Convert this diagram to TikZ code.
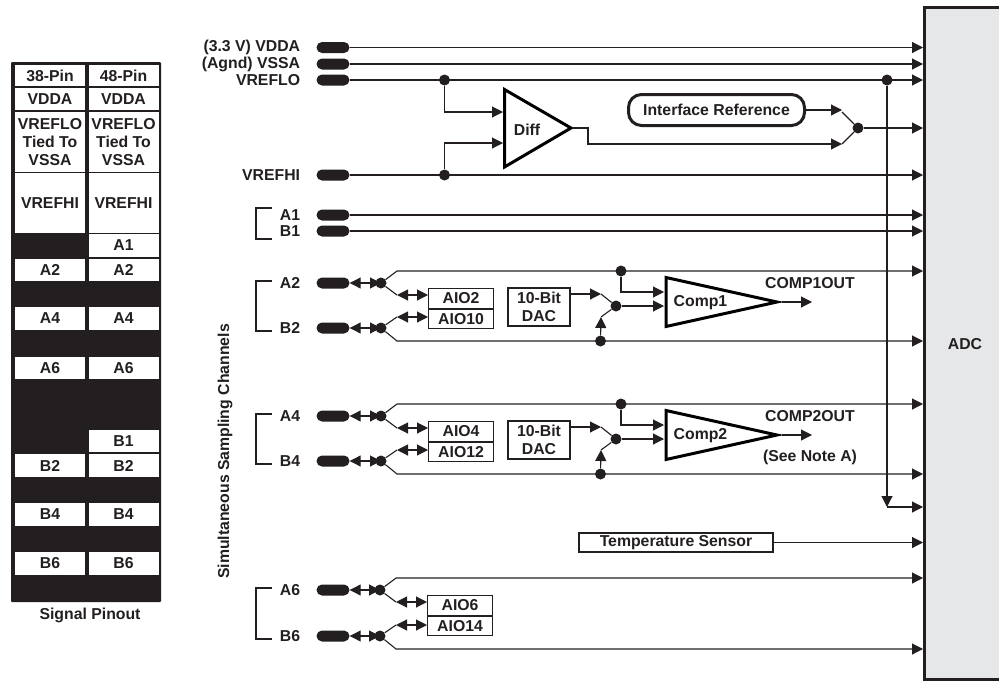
\documentclass[tikz,border=0pt]{standalone}
\usepackage{fontspec}
\setmainfont{Liberation Sans}
\usetikzlibrary{arrows.meta}
\usetikzlibrary{positioning}
\definecolor{ink}{HTML}{231F20}
\definecolor{adcgray}{HTML}{E6E7E8}
\newcommand{\padnode}[3]{\node(#1)[pad] at (333,#3) {};\node[rtext,left=16pt of #1] {#2}}
\newcommand{\tobus}[1]{\draw[sig] (#1.east) -- (#1 -| adc.west)}
% one pair of sampled inputs with the two AIO boxes
\newcommand{\chanpair}[8]{
  \padnode{#1}{#1}{#3};
  \padnode{#2}{#2}{#4};
  \node(dot#1)[dotnode] at (#7,#3) {};
  \node(dot#2)[dotnode] at (#7,#4) {};
  \draw[both] (#1.east) -- (dot#1.center);
  \draw[both] (#2.east) -- (dot#2.center);
  \node(#5)[aio,anchor=north west] at (#8,#3+5) {#5};
  \node(#6)[aio,anchor=north west] at (#5.south west) {#6};
  \coordinate (up#1) at (#7+16,#3-12);
  \coordinate (in#1) at (#7+16,#3+12);
  \coordinate (in#2) at (#7+16,#4-11);
  \coordinate (lo#2) at (#7+16,#4+13);
  \draw[wire] (dot#1) -- (in#1);
  \draw[wire] (dot#2) -- (in#2);
  \draw[both] (in#1) -- (in#1 -| #5.west);
  \draw[both] (in#2) -- (in#2 -| #6.west);
  \draw[sig] (dot#1) -- (up#1) -- (up#1 -| adc.west);
  \draw[sig] (dot#2) -- (lo#2) -- (lo#2 -| adc.west);
  \draw[wire] (272,#3-2) -| (256,#4+3) -- (272,#4+3);
}
% dac and comparator, hung on a pair
\newcommand{\compblock}[4]{
  \node(dac#1)[dacbox] at (539,#2+24) {10-Bit\\DAC};
  \node(tap#1)[dotnode] at (621,#2-12) {};
  \node(low#1)[dotnode] at (600.5,#3+13) {};
  \node(sw#1)[dotnode] at (616,#2+23) {};
  \coordinate (swa#1) at (601,#2+11);
  \coordinate (swb#1) at (601,#3-11);
  \draw[sig] (dac#1.east |- swa#1) -- (swa#1);
  \draw[wire] (swa#1) -- (sw#1);
  \draw[wire] (swb#1) -- (sw#1);
  \draw[sig] (low#1) -- (swb#1);
  \draw[fill=white,line width=3pt,miter limit=10] (666,#2-5.5) -- (666,#2+43.5) -- (777,#2+19) -- cycle;
  \node(cmp#1)[ltext] at (700.5,#2+20) {Comp#1};
  \coordinate (cmpa#1) at (664,#2+9);
  \coordinate (cmpb#1) at (664,#2+23);
  \coordinate (cmpo#1) at (782,#2+19);
  \coordinate (cmpe#1) at (812,#2+19);
  \draw[sig] (tap#1) |- (cmpa#1);
  \draw[sig] (sw#1) -- (cmpb#1);
  \draw[sig] (cmpo#1) -- (cmpe#1);
  \node(out#1)[ltext] at (810,#2) {#4};
}

\begin{document}
\begin{tikzpicture}[
        x=1pt,y=-1pt,
        every node/.style={font=\fontsize{15.8}{17.8}\selectfont\bfseries,text=ink},
        wire/.style={draw=ink,line width=1.1pt},
        sig/.style={wire,-{Triangle[length=11pt,width=11pt]}},
        both/.style={wire,{Triangle[length=11pt,width=11pt]}-{Triangle[length=11pt,width=11pt]}},
        pad/.style={rectangle,fill=ink,minimum width=33pt,minimum height=11pt,
                    inner sep=0pt,rounded corners=5.5pt},
        dotnode/.style={circle,fill=ink,minimum size=11pt,inner sep=0pt},
        cell/.style={rectangle,fill=white,inner sep=0pt,align=center,minimum width=70pt},
        aio/.style={rectangle,draw=ink,line width=1.1pt,inner sep=0pt,minimum width=65pt,minimum height=19.5pt},
        dacbox/.style={rectangle,draw=ink,line width=1.1pt,inner sep=0pt,align=center,minimum width=62pt,minimum height=38pt},
        rtext/.style={inner sep=0pt,anchor=east},
        ltext/.style={inner sep=0pt}
      ]
      \useasboundingbox (0,0) rectangle (999,681);

      \node(pinout)[rectangle,fill=ink,rounded corners=1pt,minimum width=150pt,minimum height=540pt] at (86,332) {};
      \foreach \cy/\ch/\txt [count=\i] in {75.5/21/38-Pin,99/22/VDDA,142/60/{VREFLO\\Tied To\\VSSA},203/60/VREFHI,
          270/22/A2,318.5/23/A4,368/22/A6,465.5/23/B2,514.5/23/B4,563.5/23/B6}{
        \node(oldpin\i)[cell,minimum height=\ch pt] at (50,\cy) {\txt};
        \node(newpin\i)[cell,minimum height=\ch pt] at (123.5,\cy) {\ifnum\i=1 48-Pin\else\txt\fi};
      }
      \node(pinAone)[cell,minimum height=23pt] at (123.5,245.5) {A1};
      \node(pinBone)[cell,minimum height=22pt] at (123.5,441) {B1};
      \node(pincap)[ltext] at (90,615.5) {Signal Pinout};

      \node(adc)[rectangle,draw=ink,fill=adcgray,line width=3pt,minimum width=80.5pt,minimum height=672pt] at (964.75,343.5) {};
      \node(adclabel)[ltext] at (965,344) {ADC};

      \padnode{vdda}{(3.3 V) VDDA}{47.5};
      \padnode{vssa}{(Agnd) VSSA}{64};
      \padnode{vreflo}{VREFLO}{80};
      \padnode{vrefhi}{VREFHI}{175};
      \padnode{Aone}{A1}{215};
      \padnode{Bone}{B1}{231};
      \tobus{vdda};
      \tobus{vssa};
      \tobus{vreflo};
      \tobus{vrefhi};
      \tobus{Aone};
      \tobus{Bone};
      \draw[wire] (272,208) -| (256,239) -- (272,239);

      \node(lotap)[dotnode] at (444.5,80) {};
      \node(hitap)[dotnode] at (444.5,175) {};
      \draw[fill=white,line width=3pt,miter limit=10] (504.5,89.5) -- (504.5,167) -- (571,128) -- cycle;
      \node(diff)[ltext] at (527,130) {Diff};
      \coordinate (diffa) at (503,112);
      \coordinate (diffb) at (503,143);
      \coordinate (diffo) at (573,128);
      \draw[sig] (lotap) |- (diffa);
      \draw[sig] (hitap) |- (diffb);

      \node(iref)[rectangle,draw=ink,line width=3pt,rounded corners=13pt,minimum width=176pt,minimum height=31pt] at (716.5,110) {Interface Reference};
      \node(mux)[dotnode] at (858,128) {};
      \coordinate (muxa) at (842,112);
      \coordinate (muxb) at (842,144);
      \coordinate (diffbend) at (588,128);
      \draw[sig] (iref.east) -- (iref.east -| muxa);
      \draw[sig] (diffo) -- (diffbend) |- (muxb);
      \draw[wire] (muxa) -- (mux);
      \draw[wire] (muxb) -- (mux);
      \draw[sig] (mux) -- (mux -| adc.west);

      \node(reftap)[dotnode] at (887,80) {};
      \coordinate (refend) at (887,507);
      \draw[sig] (reftap) -- (refend);
      \draw[sig] (refend) -- (refend -| adc.west);

      \chanpair{A2}{B2}{283}{328}{AIO2}{AIO10}{381}{428}
      \compblock{1}{283}{328}{COMP1OUT}
      \chanpair{A4}{B4}{416}{461}{AIO4}{AIO12}{381}{428}
      \compblock{2}{416}{461}{COMP2OUT}
      \chanpair{A6}{B6}{590}{636}{AIO6}{AIO14}{380}{427}

      \node(note)[ltext] at (810,457) {(See Note A)};
      \node(temp)[rectangle,draw=ink,line width=1.1pt,inner sep=0pt,minimum width=194pt,minimum height=19pt] at (676,542.5) {Temperature Sensor};
      \tobus{temp};
      \node(channels)[ltext,rotate=90] at (225,451.5) {Simultaneous Sampling Channels};
\end{tikzpicture}
\end{document}
